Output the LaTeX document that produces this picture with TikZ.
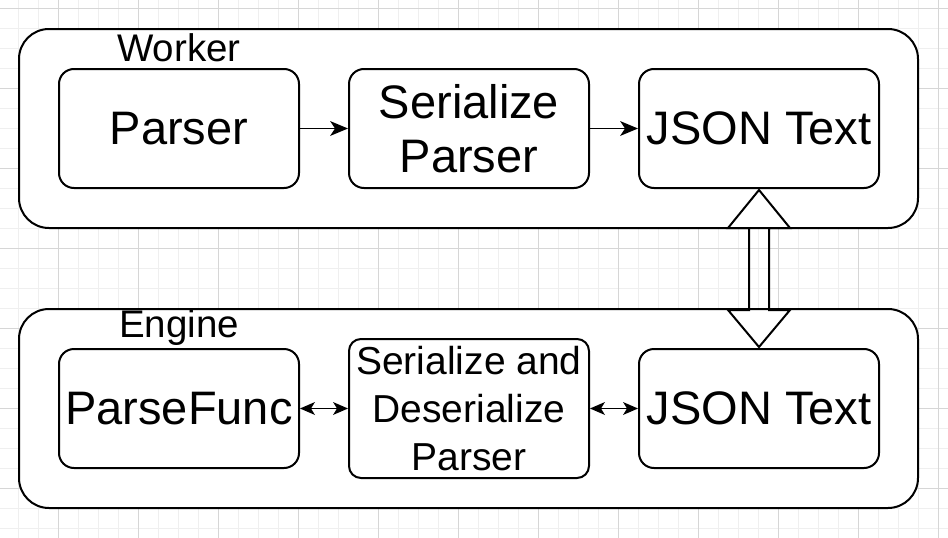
\documentclass[tikz,border=0pt]{standalone}
\usepackage{fontspec}
\setmainfont{Liberation Sans}
\definecolor{gridlight}{HTML}{EFEFEF}
\definecolor{griddark}{HTML}{D6D6D6}
\tikzset{
  container/.style={draw=black, line width=2pt, fill=white, rounded corners=30pt},
  box/.style={draw=black, line width=2pt, fill=white, rounded corners=15pt},
  boxtext/.style={font=\fontsize{47}{54}\selectfont, align=center},
  smalltext/.style={font=\fontsize{39}{48}\selectfont, align=center},
  lbl/.style={font=\fontsize{38.5}{44}\selectfont},
  conn/.style={line width=1.7pt},
  pics/headbig/.style={code={\fill[black] (0,0) -- (-18,-7.5) -- (-13,0) -- (-18,7.5) -- cycle;}},
  pics/headsmall/.style={code={\fill[black] (0,0) -- (-15,-6.5) -- (-11,0) -- (-15,6.5) -- cycle;}},
}
\begin{document}
\begin{tikzpicture}[x=1pt,y=-1pt]
\useasboundingbox (0,0) rectangle (948,538);
\fill[white] (0,0) rectangle (948,538);
% grid
\foreach \gx in {18,38,...,938} \draw[gridlight, line width=1pt] (\gx,0) -- (\gx,538);
\foreach \gy in {8,28,...,528} \draw[gridlight, line width=1pt] (0,\gy) -- (948,\gy);
\foreach \gx in {58,138,...,938} \draw[griddark, line width=1pt] (\gx,0) -- (\gx,538);
\foreach \gy in {8,88,...,528} \draw[griddark, line width=1pt] (0,\gy) -- (948,\gy);
% containers
\draw[container] (19,29) rectangle (918,228);
\draw[container] (19,309) rectangle (918,508);
\node[lbl] (workerlbl) at (179,48) {Worker};
\node[lbl] (enginelbl) at (179,328) {Engine};
% worker boxes
\draw[box] (59,69) rectangle (299,188);
\node[boxtext] (parser) at (179,128.5) {Parser};
\draw[box] (349,69) rectangle (589,188);
\node[boxtext] (ser) at (469,128.5) {Serialize\\Parser};
\draw[box] (639,69) rectangle (879,188);
\node[boxtext] (json1) at (759,128.5) {JSON Text};
% engine boxes
\draw[box] (59,349) rectangle (299,468);
\node[boxtext] (pfunc) at (179,408.5) {ParseFunc};
\draw[box, rounded corners=12pt] (349,339) rectangle (589,478);
\node[smalltext] (serdes) at (469,408.5) {Serialize and\\Deserialize\\Parser};
\draw[box] (639,349) rectangle (879,468);
\node[boxtext] (json2) at (759,408.5) {JSON Text};
% anchor coordinates on box borders
\coordinate (parserE) at (299,128.5);
\coordinate (serW) at (348,128.5);
\coordinate (serE) at (589,128.5);
\coordinate (json1W) at (638,128.5);
\coordinate (pfuncE) at (300,408.5);
\coordinate (serdesW) at (348,408.5);
\coordinate (serdesE) at (590,408.5);
\coordinate (json2W) at (638,408.5);
% connectors
\draw[conn, shorten >=6pt] (parserE) -- (serW);
\pic at (serW) {headbig};
\draw[conn, shorten >=6pt] (serE) -- (json1W);
\pic at (json1W) {headbig};
\draw[conn, shorten >=5pt, shorten <=5pt] (pfuncE) -- (serdesW);
\pic at (serdesW) {headsmall};
\pic[xscale=-1] at (pfuncE) {headsmall};
\draw[conn, shorten >=5pt, shorten <=5pt] (serdesE) -- (json2W);
\pic at (json2W) {headsmall};
\pic[xscale=-1] at (serdesE) {headsmall};
% double block arrow
\coordinate (tipT) at (759,190);
\coordinate (tipB) at (759,347);
\draw[line width=2pt, line join=miter]
  (tipT) -- (790,228) -- (769,228) -- (769,310) -- (790,310) -- (tipB)
  -- (728,310) -- (749,310) -- (749,228) -- (728,228) -- cycle;
\end{tikzpicture}
\end{document}
